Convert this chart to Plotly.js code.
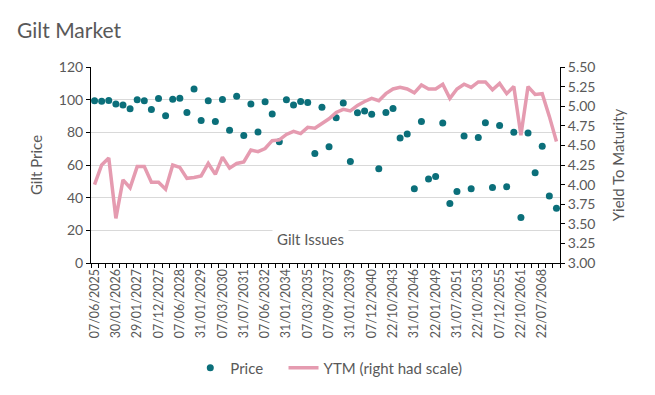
<!DOCTYPE html>
<html>
<head>
<meta charset="utf-8">
<script src="https://cdn.plot.ly/plotly-3.0.1.min.js"></script>
<style>html,body{margin:0;padding:0;background:#fff;}#chart{width:655px;height:395px;}</style>
</head>
<body>
<div id="chart"></div>
<script>
// Gilt maturity dates (categories)
const maturities = [
  "07/06/2025","07/09/2025","22/10/2025","30/01/2026","22/07/2026","22/10/2026",
  "29/01/2027","07/03/2027","22/07/2027","07/12/2027","31/01/2028","07/03/2028",
  "07/06/2028","22/10/2028","07/12/2028","31/01/2029","22/07/2029","22/10/2029",
  "07/03/2030","22/10/2030","07/12/2030","31/07/2031","22/10/2031","31/01/2032",
  "07/06/2032","31/01/2033","31/07/2033","31/01/2034","31/07/2034","07/09/2034",
  "07/03/2035","31/07/2035","07/03/2036","07/09/2037","29/01/2038","07/12/2038",
  "31/01/2039","07/09/2039","31/01/2040","07/12/2040","22/10/2041","07/12/2042",
  "22/10/2043","22/01/2044","22/01/2045","31/01/2046","07/12/2046","22/07/2047",
  "22/01/2049","22/10/2050","22/07/2050","31/07/2051","22/07/2052","31/07/2053",
  "22/10/2053","31/07/2054","22/10/2054","07/12/2055","22/07/2057","22/01/2060",
  "22/10/2061","22/10/2063","22/07/2065","22/07/2068","22/10/2071","22/10/2073"
];
// Clean prices
const price = [
  99.3, 99.1, 99.5, 97.3, 96.7, 94.4, 99.9, 99.3, 94.0, 100.7, 90.1, 100.3,
  100.9, 92.2, 106.6, 87.3, 99.3, 86.7, 100.1, 81.2, 102.1, 78.0, 97.3, 80.2,
  98.7, 91.2, 74.3, 99.9, 96.7, 98.9, 98.3, 67.0, 95.4, 71.1, 88.9, 97.9,
  62.1, 92.0, 93.0, 91.0, 57.7, 92.2, 94.6, 76.6, 79.0, 45.5, 86.7, 51.4,
  53.0, 85.7, 36.5, 43.7, 77.8, 45.5, 76.8, 85.9, 46.3, 84.2, 46.7, 80.0,
  27.8, 79.6, 55.2, 71.5, 41.0, 33.5
];
// Yield to maturity (%)
const ytm = [
  4.00, 4.25, 4.34, 3.57, 4.06, 3.96, 4.23, 4.23, 4.03, 4.03, 3.94, 4.25,
  4.22, 4.08, 4.09, 4.11, 4.27, 4.13, 4.35, 4.21, 4.27, 4.29, 4.44, 4.42,
  4.46, 4.56, 4.57, 4.64, 4.68, 4.65, 4.73, 4.72, 4.78, 4.84, 4.92, 4.96,
  4.94, 5.01, 5.06, 5.10, 5.07, 5.16, 5.22, 5.24, 5.22, 5.17, 5.27, 5.22,
  5.22, 5.28, 5.10, 5.22, 5.28, 5.24, 5.31, 5.31, 5.21, 5.29, 5.16, 5.25,
  4.63, 5.25, 5.15, 5.16, 4.87, 4.55
];
// Show every third maturity as a label
const tickText = maturities.map((d, i) => (i % 3 === 0 ? d : ""));

const grey = "#595959";
const font = "Lato, 'Open Sans', sans-serif";

const traces = [
  {
    x: maturities, y: price, type: "scatter", mode: "markers", name: "Price\u00a0\u00a0\u00a0\u00a0",
    marker: {color: "#0b6f7a", size: 7}, yaxis: "y"
  },
  {
    x: maturities, y: ytm, type: "scatter", mode: "lines", name: "YTM (right had scale)",
    line: {color: "#e59bb0", width: 3.5}, yaxis: "y2"
  }
];

const layout = {
  width: 655, height: 395,
  margin: {l: 91, r: 95, t: 67, b: 132},
  paper_bgcolor: "#fff", plot_bgcolor: "#fff",
  font: {family: font, color: grey, size: 13},
  title: {text: "Gilt Market", x: 17/655, xanchor: "left", xref: "container",
          y: 1 - 31/395, yanchor: "middle", yref: "container",
          font: {size: 21, color: grey, family: font}},
  showlegend: true,
  legend: {orientation: "h", x: 0.507, xanchor: "center", xref: "paper",
           y: 1 - 368/395, yanchor: "middle", yref: "container",
           font: {size: 15, color: grey}, traceorder: "normal"},
  xaxis: {
    type: "category", categoryorder: "array", categoryarray: maturities,
    tickmode: "array", tickvals: maturities, ticktext: tickText,
    tickangle: -90, tickfont: {size: 12.5, color: grey},
    showgrid: false, showline: true, linecolor: "#000", linewidth: 1,
    ticks: "outside", ticklen: 4, tickcolor: "#000", tickson: "boundaries",
    range: [-0.5, maturities.length - 0.5], zeroline: false
  },
  yaxis: {
    range: [0, 120], dtick: 20, tick0: 0,
    showgrid: true, gridcolor: "#d9d9d9", gridwidth: 1,
    showline: true, linecolor: "#000", linewidth: 1,
    ticks: "outside", ticklen: 4, tickcolor: "#000",
    tickfont: {size: 14, color: grey}, zeroline: false,
    title: {text: "Gilt Price", font: {size: 15, color: grey}, standoff: 12}
  },
  yaxis2: {
    overlaying: "y", side: "right", range: [3, 5.5], dtick: 0.25, tick0: 3,
    tickformat: ".2f", showgrid: false,
    showline: true, linecolor: "#000", linewidth: 1,
    ticks: "outside", ticklen: 4, tickcolor: "#000",
    tickfont: {size: 14, color: grey}, zeroline: false,
    title: {text: "Yield To Maturity", font: {size: 15, color: grey}, standoff: 19}
  },
  annotations: [{
    text: "Gilt Issues", xref: "paper", yref: "paper",
    x: (310 - 91) / 469, y: (263 - 239) / 196, xanchor: "center", yanchor: "middle",
    showarrow: false, bgcolor: "#fff", borderpad: 4,
    font: {size: 15, color: grey}
  }]
};

Plotly.newPlot("chart", traces, layout, {displayModeBar: false, staticPlot: true});
</script>
</body>
</html>
